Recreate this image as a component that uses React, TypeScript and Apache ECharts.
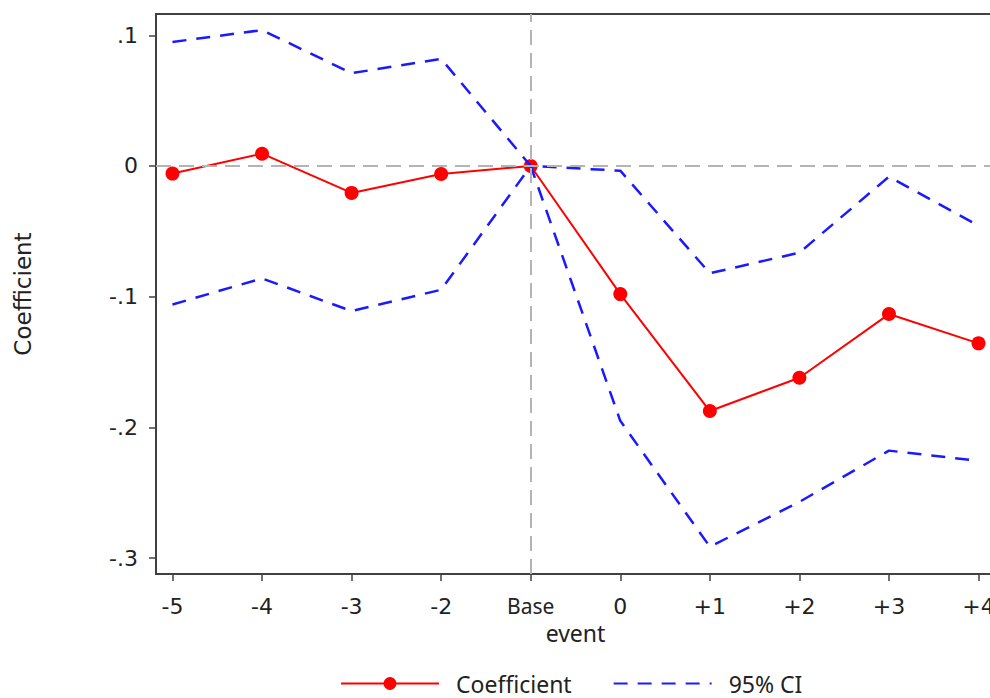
import React, { useEffect, useRef } from "react";
import * as echarts from "echarts";

const categories = ["-5", "-4", "-3", "-2", "Base", "0", "+1", "+2", "+3", "+4"];
const coefficient = [-0.0058, 0.0094, -0.0206, -0.0061, 0, -0.098, -0.1875, -0.162, -0.1133, -0.1357];
const upperCI = [0.0949, 0.104, 0.071, 0.082, 0, -0.0036, -0.0821, -0.0663, -0.0082, -0.0457];
const lowerCI = [-0.106, -0.086, -0.111, -0.0947, 0, -0.195, -0.2913, -0.257, -0.2178, -0.2257];
const yTicks = [-0.3, -0.2, -0.1, 0, 0.1];
const yTickLabels = ["-.3", "-.2", "-.1", "0", ".1"];

const toPairs = (arr: number[]) => arr.map((v, i) => [i, v]);

export default function App() {
  const ref = useRef<HTMLDivElement>(null);
  useEffect(() => {
    if (!ref.current) return;
    const chart = echarts.init(ref.current, null, { renderer: "svg" });
    const axisColor = "#404040";
    const tickFont = "DejaVu Sans";
    const blue = "#1a1aff";
    chart.setOption({
      animation: false,
      backgroundColor: "#ffffff",
      grid: {
        left: 156,
        width: 839,
        top: 14,
        bottom: 124,
        show: true,
        borderColor: axisColor,
        borderWidth: 2,
        containLabel: false,
        outerBoundsMode: "none",
      },
      xAxis: {
        type: "value",
        min: -0.184,
        max: 9.184,
        name: "event",
        nameLocation: "middle",
        nameGap: 46,
        nameTextStyle: { fontFamily: "Noto Sans", fontSize: 23, color: "#222" },
        axisLine: { show: true, onZero: false, lineStyle: { color: axisColor, width: 2 } },
        axisTick: {
          show: true,
          customValues: categories.map((_, i) => i),
          length: 7,
          lineStyle: { color: axisColor, width: 1.5 },
        },
        axisLabel: {
          show: true,
          customValues: categories.map((_, i) => i),
          margin: 21,
          fontFamily: tickFont,
          fontSize: 22,
          color: "#222",
          hideOverlap: false,
          formatter: (v: number) => {
            const c = categories[Math.round(v)];
            return c === "Base" ? "{b|Base}" : c;
          },
          rich: {
            b: { fontFamily: "Noto Sans", fontSize: 21, color: "#222" },
          },
        },
        splitLine: { show: false },
      },
      yAxis: {
        type: "value",
        min: -0.3122,
        max: 0.1163,
        name: "Coefficient",
        nameLocation: "middle",
        nameGap: 122,
        nameRotate: 90,
        nameTextStyle: { fontFamily: tickFont, fontSize: 23, color: "#222" },
        axisLine: { show: true, onZero: false, lineStyle: { color: axisColor, width: 2 } },
        axisTick: {
          show: true,
          customValues: yTicks,
          length: 7,
          lineStyle: { color: axisColor, width: 1.5 },
        },
        axisLabel: {
          show: true,
          customValues: yTicks,
          margin: 18,
          fontFamily: tickFont,
          fontSize: 22,
          color: "#222",
          formatter: (v: number) => {
            const idx = yTicks.findIndex((t) => Math.abs(t - v) < 1e-6);
            return idx >= 0 ? yTickLabels[idx] : "";
          },
        },
        splitLine: { show: false },
      },
      legend: {
        data: [
          { name: "Coefficient" },
          { name: "95% CI", itemStyle: { opacity: 0 } },
        ],
        left: 335,
        top: 667,
        itemWidth: 98,
        itemHeight: 16,
        itemGap: 41,
        textStyle: {
          fontFamily: "Noto Sans",
          fontSize: 23,
          color: "#222",
          padding: [0, 0, 0, 12],
        },
      },
      series: [
        {
          name: "",
          type: "line",
          data: [],
          silent: true,
          z: 1,
          markLine: {
            silent: true,
            symbol: "none",
            label: { show: false },
            lineStyle: { color: "#b4b4b4", type: [15, 8], width: 2 },
            data: [{ yAxis: 0 }, { xAxis: 4 }],
          },
        },
        {
          name: "Coefficient",
          type: "line",
          data: toPairs(coefficient),
          symbol: "circle",
          symbolSize: 14,
          z: 3,
          lineStyle: { color: "#ff0000", width: 2 },
          itemStyle: { color: "#ff0000" },
        },
        {
          name: "95% CI",
          type: "line",
          data: toPairs(upperCI),
          symbol: "none",
          z: 4,
          lineStyle: { color: blue, width: 2.5, type: [14, 10] },
          itemStyle: { color: blue },
        },
        {
          name: "95% CI",
          type: "line",
          data: toPairs(lowerCI),
          symbol: "none",
          z: 4,
          lineStyle: { color: blue, width: 2.5, type: [14, 10] },
          itemStyle: { color: blue },
        },
      ],
    });
    return () => chart.dispose();
  }, []);
  return <div ref={ref} style={{ width: 990, height: 698, position: "absolute", left: 0, top: 0 }} />;
}
